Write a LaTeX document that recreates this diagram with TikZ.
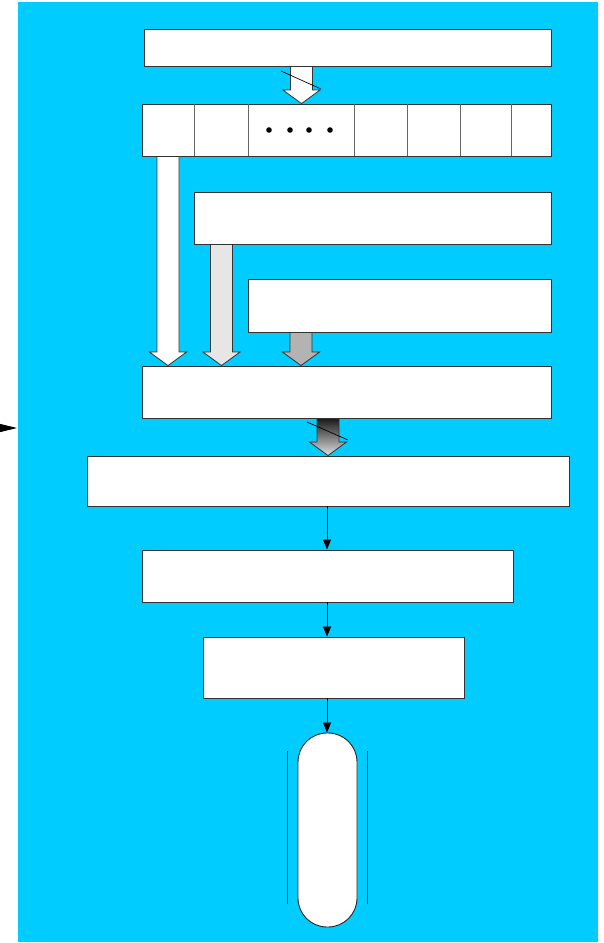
\documentclass[tikz,border=0pt]{standalone}
\usepackage{xcolor}
\usetikzlibrary{arrows.meta, calc}

\definecolor{skyback}{HTML}{00CCFF}
\definecolor{palegray}{HTML}{E6E6E6}
\definecolor{midgray}{HTML}{B3B3B3}

% hollow block arrow: [style] x, from anchor, to anchor
\newcommand{\blockarrow}[4][fill=white]{%
  \draw[blockarr, #1] let \p1=(#3), \p2=(#4) in
    (#2-11,\y1) -- (#2+11,\y1) -- (#2+11,\y2+13.5pt) -- (#2+18.5,\y2+13.5pt)
    -- (#2,\y2) -- (#2-18.5,\y2+13.5pt) -- (#2-11,\y2+13.5pt) -- cycle;}

\begin{document}
\begin{tikzpicture}[
    x=1pt, y=-1pt,
    panel/.style={rectangle, fill=skyback, draw=none, inner sep=0pt,
                  minimum width=580pt, minimum height=940pt},
    box/.style={rectangle, draw=black!80, line width=0.9pt, fill=white,
                inner sep=0pt},
    tank/.style={rectangle, rounded corners=29pt, draw=black!85,
                 line width=0.9pt, fill=white, inner sep=0pt},
    divider/.style={draw=black!60, line width=0.9pt},
    blockarr/.style={draw=black!80, line width=0.8pt, line join=miter},
    slash/.style={draw=black, line width=0.7pt},
    flow/.style={-{Triangle[length=10pt, width=8pt]}, line width=0.8pt},
    feedarr/.style={-{Triangle[length=17pt, width=8pt]}, line width=0.8pt},
    side/.style={draw=black!85, line width=0.9pt}
]
\useasboundingbox (0,0) rectangle (603,943);

\node[panel] (panel) at (308,472) {};

% boxes
\node[box, minimum width=407pt, minimum height=37pt] (head) at (347.5,47.5) {};
\node[box, minimum width=409pt, minimum height=52pt] (row) at (346.5,130) {};
\node[box, minimum width=357pt, minimum height=52pt] (upper) at (372.5,218) {};
\node[box, minimum width=303pt, minimum height=53pt] (lower) at (399.5,305.5) {};
\node[box, minimum width=409pt, minimum height=52pt] (merge) at (346.5,392) {};
\node[box, minimum width=482pt, minimum height=50pt] (stage1) at (328,481) {};
\node[box, minimum width=371pt, minimum height=52pt] (stage2) at (327.5,576) {};
\node[box, minimum width=261pt, minimum height=61pt] (stage3) at (333.5,667.5) {};
\node[tank, minimum width=59pt, minimum height=194pt] (tank) at (327.5,830) {};

% cells of the row
\foreach \cx in {194,248,354,407,460,511}
  \draw[divider] (\cx,0 |- row.north) -- (\cx,0 |- row.south);
\foreach \dx in {269,290,309,330}
  \fill (\dx,130) circle (2.8pt);

% block arrows
\blockarrow{301.5}{head.south}{row.north}
\blockarrow{168}{row.south}{merge.north}
\blockarrow[fill=palegray]{221.5}{upper.south}{merge.north}
\blockarrow[fill=midgray]{301}{lower.south}{merge.north}
\blockarrow[top color=black!90, bottom color=black!12]{328}{merge.south}{stage1.north}
\draw[slash] (281,71) -- (321,89);
\draw[slash] (307,422) -- (348,440);

% thin flow
\coordinate (spine) at (327,0);
\draw[flow] (spine |- stage1.south) -- (spine |- stage2.north);
\draw[flow] (spine |- stage2.south) -- (spine |- stage3.north);
\draw[flow] (spine |- stage3.south) -- (spine |- tank.north);

% lines beside the tank
\draw[side] ([xshift=-10pt, yshift=-18pt]tank.north west) -- ([xshift=-10pt, yshift=23pt]tank.south west);
\draw[side] ([xshift=10pt, yshift=-18pt]tank.north east) -- ([xshift=10pt, yshift=23pt]tank.south east);

% incoming arrow on the left
\coordinate (feed) at (-20,428);
\coordinate (feedtip) at (17,428);
\draw[feedarr] (feed) -- (feedtip);
\end{tikzpicture}
\end{document}
